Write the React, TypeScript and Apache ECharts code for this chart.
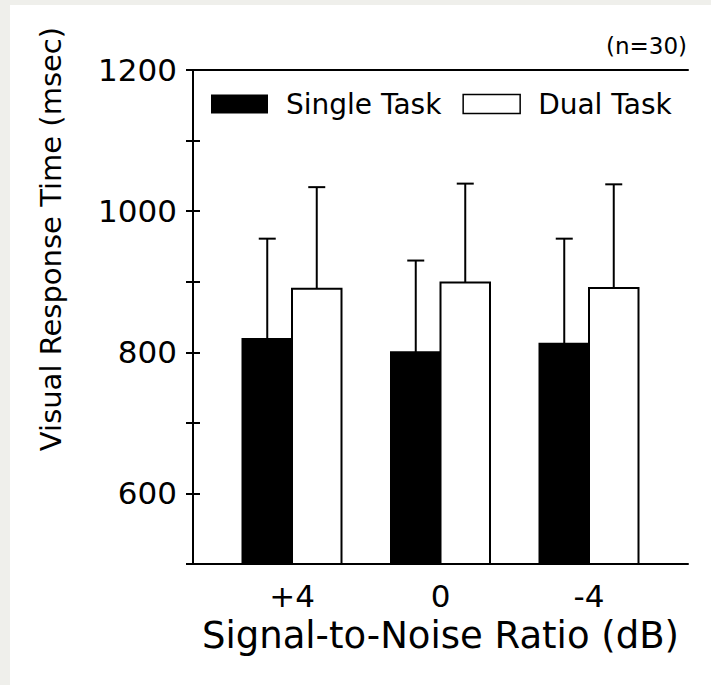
import React, { useEffect, useRef } from "react";
import * as echarts from "echarts";

const categories = ["+4", "0", "-4"];
const singleMeans = [819, 800, 812];
const singleErrTop = [961, 930, 961];
const dualMeans = [890, 899, 891];
const dualErrTop = [1034, 1039, 1038];
const yTickLabels = [600, 800, 1000, 1200];

const FONT = "DejaVu Sans";
const Y_MIN = 500;
const Y_MAX = 1200;

export default function App() {
  const ref = useRef<HTMLDivElement>(null);
  useEffect(() => {
    if (!ref.current) return;
    const chart = echarts.init(ref.current, null, { renderer: "svg" });
    const catPos = (i: number) => 2 + 3 * i;
    const singleData = categories.map((_, i) => [catPos(i) - 0.5, singleMeans[i], singleErrTop[i]]);
    const dualData = categories.map((_, i) => [catPos(i) + 0.5, dualMeans[i], dualErrTop[i]]);
    const labelMap: Record<number, string> = {};
    categories.forEach((c, i) => (labelMap[catPos(i)] = c));

    const makeRender = (fill: string) => (params: any, api: any) => {
      const x = api.value(0);
      const y = api.value(1);
      const e = api.value(2);
      const tl = api.coord([x - 0.5, y]);
      const br = api.coord([x + 0.5, Y_MIN]);
      const c = api.coord([x, y]);
      const t = api.coord([x, e]);
      const cap = 8.5;
      return {
        type: "group",
        children: [
          {
            type: "rect",
            shape: { x: tl[0], y: tl[1], width: br[0] - tl[0], height: br[1] - tl[1] },
            style: { fill, stroke: "#000", lineWidth: 2 },
          },
          {
            type: "line",
            shape: { x1: c[0], y1: c[1], x2: c[0], y2: t[1] },
            style: { stroke: "#000", lineWidth: 2 },
          },
          {
            type: "line",
            shape: { x1: c[0] - cap, y1: t[1], x2: c[0] + cap, y2: t[1] },
            style: { stroke: "#000", lineWidth: 2 },
          },
        ],
      };
    };

    const axisLine = { show: true, lineStyle: { color: "#000", width: 2 } };

    chart.setOption({
      animation: false,
      backgroundColor: "#ffffff",
      grid: { left: 183, right: 23, top: 65, bottom: 121, containLabel: false },
      legend: {
        left: 201,
        top: 85,
        padding: 0,
        itemWidth: 57,
        itemHeight: 19,
        itemGap: 21,
        icon: "rect",
        selectedMode: false,
        textStyle: { fontFamily: FONT, fontSize: 28, color: "#000", padding: [0, 0, 0, 13] },
        data: [
          { name: "Single Task", itemStyle: { color: "#000", borderColor: "#000", borderWidth: 0 } },
          { name: "Dual Task", itemStyle: { color: "#fff", borderColor: "#000", borderWidth: 1.5 } },
        ],
      },
      xAxis: [
        {
          type: "value",
          min: 0,
          max: 10,
          interval: 1,
          position: "bottom",
          axisLine,
          axisTick: { show: false },
          splitLine: { show: false },
          axisLabel: {
            fontFamily: FONT,
            fontSize: 31,
            color: "#000",
            margin: 16,
            formatter: (v: number) => labelMap[v] ?? "",
          },
          name: "Signal-to-Noise Ratio (dB)",
          nameLocation: "middle",
          nameGap: 53,
          nameTextStyle: { fontFamily: FONT, fontSize: 37, color: "#000" },
        },
        {
          type: "value",
          min: 0,
          max: 10,
          position: "top",
          axisLine,
          axisTick: { show: false },
          axisLabel: { show: false },
          splitLine: { show: false },
        },
      ],
      yAxis: [
        {
          type: "value",
          min: Y_MIN,
          max: Y_MAX,
          interval: 100,
          position: "left",
          axisLine,
          axisTick: { show: true, inside: true, length: 7, lineStyle: { color: "#000", width: 2 } },
          splitLine: { show: false },
          axisLabel: {
            fontFamily: FONT,
            fontSize: 31,
            color: "#000",
            margin: 16,
            formatter: (v: number) => (yTickLabels.includes(v) ? String(v) : ""),
          },
        },
        {
          type: "value",
          min: Y_MIN,
          max: Y_MAX,
          interval: 100,
          position: "right",
          axisLine,
          axisTick: { show: true, inside: true, length: 7, lineStyle: { color: "#000", width: 2 } },
          splitLine: { show: false },
          axisLabel: { show: false },
        },
      ],
      graphic: [
        {
          type: "text",
          x: 41,
          y: 234,
          rotation: Math.PI / 2,
          style: {
            text: "Visual Response Time (msec)",
            fontFamily: FONT,
            fontSize: 29,
            fill: "#000",
            textAlign: "center",
            textVerticalAlign: "middle",
          },
        },
        {
          type: "text",
          x: 677,
          y: 41,
          style: {
            text: "(n=30)",
            fontFamily: FONT,
            fontSize: 23,
            fill: "#000",
            textAlign: "right",
            textVerticalAlign: "middle",
          },
        },
      ],
      series: [
        {
          name: "Single Task",
          type: "custom",
          xAxisIndex: 0,
          yAxisIndex: 0,
          itemStyle: { color: "#000" },
          renderItem: makeRender("#000"),
          encode: { x: 0, y: [1, 2] },
          data: singleData,
        },
        {
          name: "Dual Task",
          type: "custom",
          xAxisIndex: 0,
          yAxisIndex: 0,
          itemStyle: { color: "#fff", borderColor: "#000" },
          renderItem: makeRender("#fff"),
          encode: { x: 0, y: [1, 2] },
          data: dualData,
        },
      ],
    });
    return () => chart.dispose();
  }, []);

  return (
    <div style={{ position: "fixed", left: 0, top: 0, width: 711, height: 685, background: "#efefeb" }}>
      <div ref={ref} style={{ position: "absolute", left: 10, top: 5, width: 701, height: 680, background: "#fff" }} />
    </div>
  );
}
